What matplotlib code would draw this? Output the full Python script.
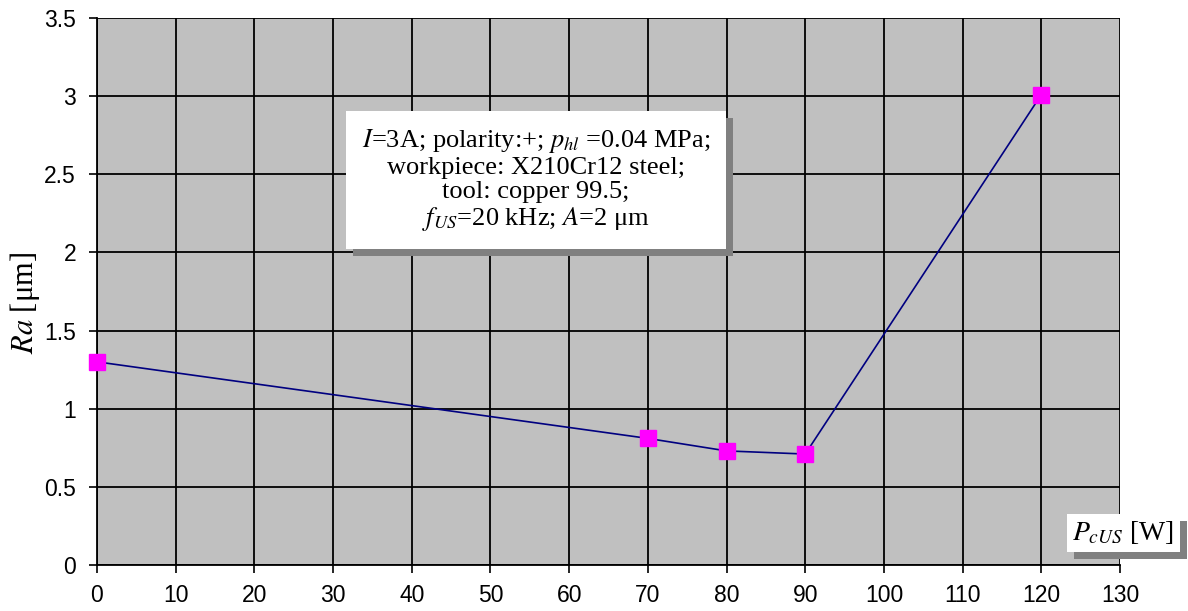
import matplotlib
matplotlib.use("Agg")
import matplotlib.pyplot as plt
import matplotlib.patheffects as pe

# surface roughness vs ultrasonic power
power = [0, 70, 80, 90, 120]
ra = [1.30, 0.81, 0.73, 0.71, 3.01]
xticks = list(range(0, 131, 10))
yticks = [0, 0.5, 1, 1.5, 2, 2.5, 3, 3.5]
ytick_labels = ["0", "0.5", "1", "1.5", "2", "2.5", "3", "3.5"]

plt.rcParams["mathtext.fontset"] = "stix"
plt.rcParams["font.family"] = "Liberation Sans"

fig = plt.figure(figsize=(11.88, 6.11), dpi=100)
ax = fig.add_axes([0.0816, 0.0753, 0.8612, 0.8952])
ax.set_facecolor("#c0c0c0")

ax.plot(power, ra, color="#000080", lw=1.2, marker="s", ms=11,
        mfc="#ff00ff", mec="#ff00ff", zorder=4, clip_on=False)

ax.set_xlim(0, 130)
ax.set_ylim(0, 3.5)
ax.set_xticks(xticks)
ax.set_yticks(yticks)
ax.set_yticklabels(ytick_labels)
ax.grid(True, color="black", lw=1.3)
ax.set_axisbelow(True)
ax.tick_params(labelsize=16.5, direction="out", length=6, width=1.2)
ax.tick_params(axis="x", pad=8)
ax.tick_params(axis="y", pad=9)
for s in ("top", "right"):
    ax.spines[s].set_visible(False)
for s in ("left", "bottom"):
    ax.spines[s].set_linewidth(1.3)

ax.set_ylabel(r"$Ra$ [μm]", fontsize=22, family="Liberation Serif")
ax.yaxis.set_label_coords(-0.054, 0.479)

shadow = [pe.SimplePatchShadow(offset=(5, -5), shadow_rgbFace="#808080", alpha=1),
          pe.Normal()]

info = ("$I$=3A; polarity:+; $p_{hl}$ =0.04 MPa;\n"
        "workpiece: X210Cr12 steel;\n"
        "tool: copper 99.5;\n"
        "$f_{US}$=20 kHz; $A$=2 μm")
t = ax.text(55.8, 2.465, info, ha="center", va="center", fontsize=19,
            family="Liberation Serif", linespacing=1.12,
            bbox=dict(boxstyle="square,pad=0.6", fc="white", ec="none"),
            zorder=5)
t.get_bbox_patch().set_path_effects(shadow)

xl = ax.text(130.4, 0.205, r"$P_{cUS}$ [W]", ha="center", va="center",
             fontsize=20, family="Liberation Serif",
             bbox=dict(boxstyle="square,pad=0.2", fc="white", ec="none"),
             zorder=5, clip_on=False)
xl.get_bbox_patch().set_path_effects(shadow)

fig.savefig("out.png", dpi=100, facecolor="white")
